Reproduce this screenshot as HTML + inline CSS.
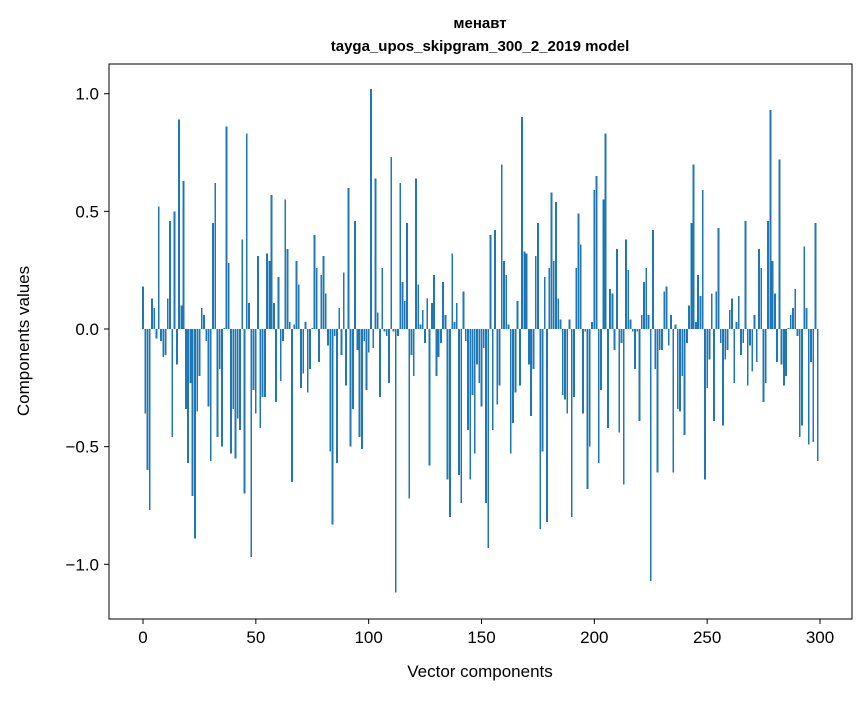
<!DOCTYPE html>
<html><head><meta charset="utf-8"><style>
body{margin:0;background:#fff;}
svg text{font-family:"Liberation Sans","DejaVu Sans",sans-serif;fill:#000;}
#bars rect{shape-rendering:crispEdges;}
</style></head><body>
<svg id="chart" width="867" height="696" xmlns="http://www.w3.org/2000/svg">
<rect width="867" height="696" fill="#fff"/>
<text x="480" y="28" text-anchor="middle" font-size="15" font-weight="bold">менавт</text>
<text x="480" y="51" text-anchor="middle" font-size="15" font-weight="bold">tayga_upos_skipgram_300_2_2019 model</text>
<g id="bars"></g>
<g id="axes"></g>
<rect x="109" y="64" width="743" height="555" fill="none" stroke="#000" stroke-width="1"/>
<text x="480" y="677" text-anchor="middle" font-size="17">Vector components</text>
<text transform="translate(29,341) rotate(-90)" text-anchor="middle" font-size="17">Components values</text>
</svg>
<script>
const values = [0.18,-0.36,-0.60,-0.77,0.13,0.09,-0.04,0.52,-0.05,-0.12,
-0.11,0.13,0.46,-0.46,0.50,-0.15,0.89,0.10,0.63,-0.34,
-0.57,-0.23,-0.71,-0.89,-0.35,-0.20,0.09,0.06,-0.05,-0.33,
-0.56,0.45,0.62,-0.46,-0.17,-0.50,0.005,0.86,0.28,-0.53,
-0.34,-0.55,-0.38,-0.43,0.38,-0.70,0.83,0.11,-0.97,-0.26,
-0.36,0.31,-0.42,-0.29,-0.29,0.32,0.29,0.57,0.11,-0.31,
0.22,-0.22,-0.05,0.55,0.34,0.03,-0.65,0.02,0.29,0.19,
-0.25,-0.19,0.03,-0.27,-0.17,0.004,0.40,0.26,-0.14,0.23,
0.31,0.15,-0.07,-0.52,-0.83,-0.03,-0.57,0.09,-0.11,0.24,
-0.24,0.60,-0.50,-0.34,0.46,-0.09,-0.46,-0.51,-0.05,-0.26,
-0.10,1.02,-0.08,0.64,0.07,-0.29,0.26,-0.01,-0.03,-0.23,
0.73,-0.01,-1.12,-0.03,0.62,0.20,0.12,0.45,-0.72,-0.11,
-0.20,0.64,0.19,0.02,0.08,-0.06,0.13,-0.58,0.11,0.23,
-0.20,-0.12,-0.06,0.20,0.06,-0.64,-0.80,0.32,0.03,0.11,
-0.62,-0.74,0.16,-0.05,-0.43,-0.64,-0.28,-0.53,-0.15,-0.23,
-0.33,-0.08,-0.74,-0.93,0.40,-0.43,0.42,-0.32,-0.24,0.70,
0.29,0.23,0.02,-0.53,-0.40,-0.27,0.12,-0.24,0.90,0.33,
0.32,-0.15,-0.37,-0.17,0.31,0.45,-0.85,-0.52,0.22,-0.82,
0.26,0.58,0.29,0.54,0.13,0.04,-0.28,-0.30,-0.36,0.04,
-0.80,-0.29,0.26,0.49,0.36,-0.36,-0.01,-0.68,-0.50,0.03,
0.59,0.65,-0.57,-0.26,0.55,0.83,-0.42,0.17,0.15,-0.09,
0.34,-0.44,-0.06,-0.66,0.38,0.25,0.04,-0.01,-0.17,-0.01,
-0.39,0.06,0.20,0.26,0.06,-1.07,0.42,-0.17,-0.61,-0.09,
-0.09,0.16,0.18,-0.07,0.06,-0.61,0.02,-0.34,-0.35,-0.20,
-0.45,-0.06,0.10,0.45,0.70,0.03,0.23,0.14,0.59,-0.64,
-0.25,-0.13,0.15,-0.39,0.16,0.43,-0.06,-0.41,-0.13,-0.09,
0.08,0.13,-0.23,0.03,0.14,-0.11,-0.06,0.46,-0.24,-0.07,
-0.18,0.06,-0.14,0.34,0.26,-0.31,-0.23,0.46,0.93,0.29,
0.15,-0.14,0.72,-0.15,-0.24,-0.20,0.004,0.06,0.09,0.17,
-0.03,-0.46,-0.41,0.35,0.09,-0.49,-0.14,-0.48,0.45,-0.56];
const xTicks = [0,50,100,150,200,250,300];
const yTicks = [1.0,0.5,0.0,-0.5,-1.0];
const yTickLabels = ["1.0","0.5","0.0","\u22120.5","\u22121.0"];

const NS="http://www.w3.org/2000/svg";
const xScale = v => 143 + v*(820-143)/300;
const yScale = v => 329 - v*235.3;
const bars=document.getElementById('bars');
const bw=0.8*(820-143)/300;
values.forEach((v,i)=>{
  const r=document.createElementNS(NS,'rect');
  const y0=yScale(0), y1=yScale(v);
  r.setAttribute('x',xScale(i)-bw/2);
  r.setAttribute('y',Math.min(y0,y1));
  r.setAttribute('width',bw);
  r.setAttribute('height',Math.abs(y1-y0));
  r.setAttribute('fill','#1f77b4');
  
  
  bars.appendChild(r);
});
const axes=document.getElementById('axes');
xTicks.forEach(t=>{
  const x=xScale(t);
  const l=document.createElementNS(NS,'line');
  l.setAttribute('x1',x);l.setAttribute('x2',x);l.setAttribute('y1',619);l.setAttribute('y2',624);
  l.setAttribute('stroke','#000');
  
  
  axes.appendChild(l);
  const tx=document.createElementNS(NS,'text');
  tx.setAttribute('x',x);tx.setAttribute('y',643);tx.setAttribute('text-anchor','middle');tx.setAttribute('font-size','17');
  tx.textContent=String(t);
  
  
  axes.appendChild(tx);
});
yTicks.forEach((t,i)=>{
  const y=yScale(t);
  const l=document.createElementNS(NS,'line');
  l.setAttribute('x1',104);l.setAttribute('x2',109);l.setAttribute('y1',y);l.setAttribute('y2',y);
  l.setAttribute('stroke','#000');
  
  
  axes.appendChild(l);
  const tx=document.createElementNS(NS,'text');
  tx.setAttribute('x',99);tx.setAttribute('y',y+6);tx.setAttribute('text-anchor','end');tx.setAttribute('font-size','17');
  tx.textContent=yTickLabels[i];
  
  
  axes.appendChild(tx);
});
</script>
</body></html>
